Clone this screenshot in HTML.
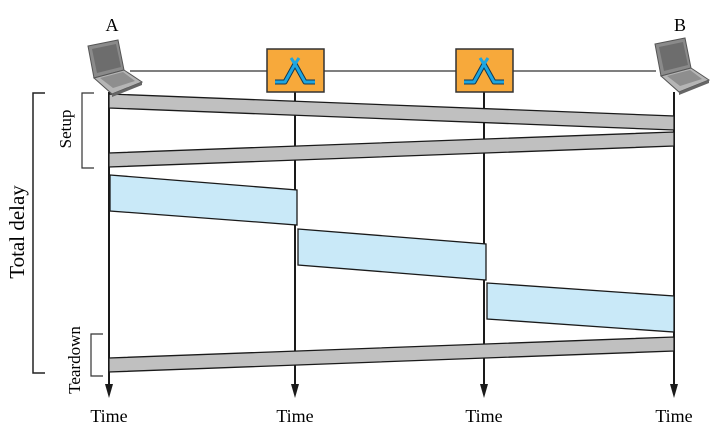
<!DOCTYPE html>
<html><head><meta charset="utf-8"><style>
body{margin:0;background:#fff;}
svg{display:block;font-family:"Liberation Serif",serif;}
</style></head><body>
<svg id="chart" width="720" height="437" viewBox="0 0 720 437" xmlns="http://www.w3.org/2000/svg">
<defs>
<g id="laptop">
<path d="M2 6 L32 0 L38 30 L8 38 Z" fill="#8a8a8a" stroke="#555" stroke-width="1"/>
<path d="M6 9 L30 4 L35 27 L11 33 Z" fill="#6d6d6d"/>
<path d="M8 38 L38 30 L56 42 L26 54 Z" fill="#b5b5b5" stroke="#555" stroke-width="1"/>
<path d="M14 38 L37 32 L49 41 L27 48 Z" fill="#8e8e8e"/>
<path d="M26 54 L56 42 L56 45 L26 57 Z" fill="#666"/>
</g>
</defs>
<line x1="130" y1="71" x2="656" y2="71" stroke="#555" stroke-width="1.5"/>
<g id="timelines"></g>
<g id="bars"></g>
<use href="#laptop" x="86" y="40"/>
<use href="#laptop" x="653" y="38"/>
<g id="switches"></g>
<text x="112" y="31" font-size="18" text-anchor="middle">A</text>
<text x="680" y="31" font-size="18" text-anchor="middle">B</text>
<path d="M45 93 H33 V373 H45" fill="none" stroke="#222" stroke-width="1.5"/>
<path d="M94 93 H82 V168 H94" fill="none" stroke="#333" stroke-width="1.2"/>
<path d="M103 334 H91 V376 H103" fill="none" stroke="#333" stroke-width="1.2"/>
<text transform="translate(24,232) rotate(-90)" font-size="21" text-anchor="middle">Total delay</text>
<text transform="translate(71,129) rotate(-90)" font-size="17" text-anchor="middle">Setup</text>
<text transform="translate(80,360) rotate(-90)" font-size="17" text-anchor="middle">Teardown</text>
</svg>
<script>
const nodeX = [109, 295, 484, 674];
const timeLabels = ["Time","Time","Time","Time"];
// bars: [fromNode, toNode, topAtFrom, bottomAtFrom, topAtTo, bottomAtTo]
const setupBars = [[0,3,94,108,116,130],[3,0,132,146,153,167]];
const dataBars = [[0,1,175,211,190,225],[1,2,229,265,244,280],[2,3,283,319,296,332]];
const teardownBars = [[0,3,358,372,337,351]];
const switchNodes = [1,2];
const NS="http://www.w3.org/2000/svg";
function mk(t,a){const e=document.createElementNS(NS,t);for(const k in a)e.setAttribute(k,a[k]);return e;}
const tl=document.getElementById('timelines');
nodeX.forEach((x,i)=>{
  const l=mk('line',{x1:x,y1:92,x2:x,y2:392,stroke:'#1a1a1a','stroke-width':2});
  
  
  tl.appendChild(l);
  const a=mk('path',{d:`M${x-4} 384 L${x} 398 L${x+4} 384 Z`,fill:'#1a1a1a'});
  
  
  tl.appendChild(a);
  const t=mk('text',{x:x,y:422,'font-size':18,'text-anchor':'middle'});
  t.textContent=timeLabels[i];
  
  
  tl.appendChild(t);
});
const bg=document.getElementById('bars');
function drawBar(b,fill,name,packet){
  let x1=nodeX[b[0]], x2=nodeX[b[1]];
  if(packet){ x1 += (b[0]===0?1:3); x2 += (b[1]===nodeX.length-1?0:2); }
  const p=mk('polygon',{points:`${x1},${b[2]} ${x2},${b[4]} ${x2},${b[5]} ${x1},${b[3]}`,fill:fill,stroke:'#1a1a1a','stroke-width':1.3});
  
  
  bg.appendChild(p);
}
setupBars.forEach((b,i)=>drawBar(b,'#c0c0c0','setup-bar-'+i,false));
dataBars.forEach((b,i)=>drawBar(b,'#c9e9f8','data-packet-'+i,true));
teardownBars.forEach((b,i)=>drawBar(b,'#c0c0c0','teardown-bar-'+i,false));
const sg=document.getElementById('switches');
switchNodes.forEach((n,i)=>{
  const x=nodeX[n];
  const g=mk('g',{});
  
  
  g.appendChild(mk('rect',{x:x-28,y:49,width:57,height:43,fill:'#f7a93b',stroke:'#333','stroke-width':1.5}));
  g.appendChild(mk('path',{d:`M${x-20} 82 H${x-10} L${x} 64 L${x+10} 82 H${x+20}`,fill:'none',stroke:'#13384f','stroke-width':5,'stroke-linejoin':'round'}));
  g.appendChild(mk('path',{d:`M${x-20} 82 H${x-10} L${x} 64 L${x+10} 82 H${x+20} M${x-4} 58 L${x} 64 L${x+4} 58`,fill:'none',stroke:'#1ea6e0','stroke-width':3,'stroke-linejoin':'round'}));
  sg.appendChild(g);
});
</script>
</body></html>
